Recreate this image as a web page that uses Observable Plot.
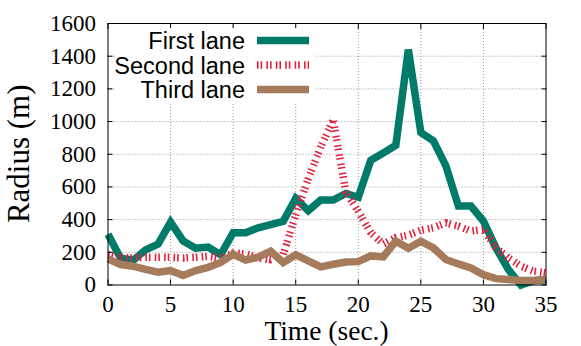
<!DOCTYPE html>
<html><head><meta charset="utf-8">
<script src="https://cdn.jsdelivr.net/npm/d3@7"></script>
<script src="https://cdn.jsdelivr.net/npm/@observablehq/plot@0.6"></script>
<style>body{margin:0;background:#fff}#chart{width:581px;height:346px}</style>
</head><body><div id="chart"></div>
<script>
// ---- data ----
const times = [0,1,2,3,4,5,6,7,8,9,10,11,12,13,14,15,16,17,18,19,20,21,22,23,24,25,26,27,28,29,30,31,32,33,34,35];
const firstLane  = [310,165,150,215,250,385,270,225,232,185,320,320,350,370,390,530,455,520,520,560,537,763,808,855,1440,933,882,729,483,483,391,227,94,0,26,32];
const secondLane = [185,170,165,170,170,170,165,170,175,165,195,190,165,155,185,430,650,845,1010,570,450,320,250,290,305,335,350,380,360,330,340,227,166,115,84,74];
const thirdLane  = [160,125,115,95,78,88,58,88,108,138,188,152,170,207,137,185,148,111,127,141,143,178,172,268,225,268,227,156,129,104,63,39,33,27,27,33];
const laneNames  = ["First lane","Second lane","Third lane"];
const laneColors = ["#007a69","#e4203c","#a67b5b"];
const xTicks = [0,5,10,15,20,25,30,35];
const yTicks = [0,200,400,600,800,1000,1200,1400,1600];
const xLabel = "Time (sec.)";
const yLabel = "Radius (m)";

// ---- build ----
const laneValues = [firstLane, secondLane, thirdLane];
const rows = laneValues.map((vals, k) => times.map((t, i) => ({t, r: vals[i], lane: laneNames[k]})));
const dashes = [null, "1.6,2,1.6,4.2", null];

const W = 581, H = 346, mL = 107.5, mR = 35.5, mT = 23, mB = 61.5;
const serif = "Liberation Serif";
const sans = "Liberation Sans";
const fmt = d => String(d);

const plot = Plot.plot({
  width: W, height: H,
  marginLeft: mL, marginRight: mR, marginTop: mT, marginBottom: mB,
  style: {background: "transparent", color: "black"},
  x: {domain: [0, 35], label: null},
  y: {domain: [0, 1600], label: null},
  marks: [
    Plot.gridY(yTicks.slice(1, -1), {stroke: "#9a9a9a", strokeOpacity: 1, strokeWidth: 1, strokeDasharray: "1,2"}),
    Plot.gridX(xTicks.slice(1, -1), {stroke: "#9a9a9a", strokeOpacity: 1, strokeWidth: 1, strokeDasharray: "1,2"}),
    ...rows.map((data, k) => Plot.line(data, {
      x: "t", y: "r", stroke: laneColors[k], strokeWidth: 7.5,
      strokeDasharray: dashes[k], strokeLinejoin: "miter", strokeMiterlimit: 2, strokeLinecap: "butt"
    })),
    Plot.frame({stroke: "black", strokeWidth: 1}),
    Plot.axisX(xTicks, {anchor: "bottom", tickSize: -5, fill: "none", label: null}),
    Plot.axisX(xTicks, {anchor: "top", tickSize: -5, fill: "none", label: null}),
    Plot.axisY(yTicks, {anchor: "left", tickSize: -5, fill: "none", label: null}),
    Plot.axisY(yTicks, {anchor: "right", tickSize: -5, fill: "none", label: null}),
    Plot.axisX(xTicks, {anchor: "bottom", tickSize: 0, tickPadding: 11, fontSize: 23, fontFamily: serif, fontVariant: "normal", tickFormat: fmt, label: null}),
    Plot.axisY(yTicks, {anchor: "left", tickSize: 0, tickPadding: 12, fontSize: 23, fontFamily: serif, fontVariant: "normal", tickFormat: fmt, label: null})
  ]
});

const svg = d3.select(plot);
// legend (opaque key box inside the frame)
const key = svg.append("g");
key.append("rect").attr("x", 115).attr("y", 28).attr("width", 200).attr("height", 76).attr("fill", "white");
laneNames.forEach((name, k) => {
  const base = 49 + k * 24.5;
  key.append("text").attr("x", 245).attr("y", base).attr("text-anchor", "end")
    .attr("font-family", sans).attr("font-size", 23.5).attr("fill", "black").text(name);
  key.append("line").attr("x1", 257).attr("x2", 309).attr("y1", base - 8.5).attr("y2", base - 8.5)
    .attr("stroke", laneColors[k]).attr("stroke-width", 7.5)
    .attr("stroke-dasharray", dashes[k]);
});
// axis titles
svg.append("text").attr("x", mL + (W - mL - mR) / 2).attr("y", 340).attr("text-anchor", "middle")
  .attr("font-family", serif).attr("font-size", 27.5).attr("fill", "black").text(xLabel);
svg.append("text").attr("transform", `translate(29,${mT + (H - mT - mB) / 2}) rotate(-90)`)
  .attr("text-anchor", "middle").attr("font-family", serif).attr("font-size", 31).attr("fill", "black").text(yLabel);

document.getElementById("chart").appendChild(plot);
</script></body></html>
